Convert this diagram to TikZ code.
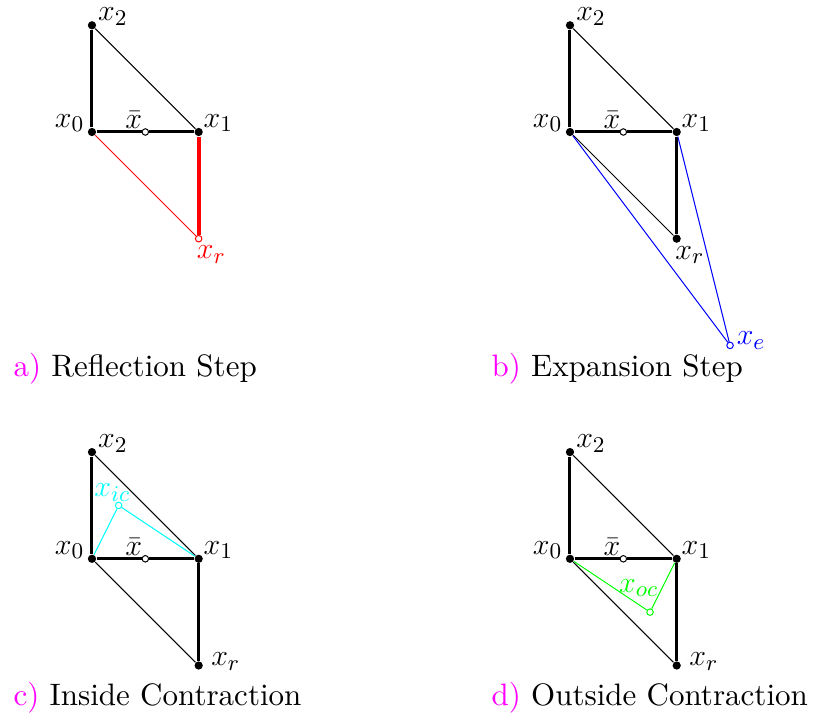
\documentclass[tikz,border=0pt]{standalone}
\usepackage{fontspec}
\usepackage{xcolor}
\usepackage{tikz}
\usetikzlibrary{positioning}

\newfontfamily\capfont{lmroman10-regular.otf}
\definecolor{capmag}{RGB}{255,0,255}
\definecolor{iccyan}{RGB}{0,255,255}
\definecolor{ocgreen}{RGB}{0,255,0}

\begin{document}
\begin{tikzpicture}[x=1.5cm, y=1.5cm,
    every node/.style={font=\fontsize{12.4}{15}\selectfont},
    dot/.style={circle, fill=black, inner sep=0pt, minimum size=3.3pt},
    hollow/.style={circle, draw, fill=white, inner sep=0pt, minimum size=2.6pt, line width=0.4pt},
    lbl/.style={inner sep=1pt},
    edge/.style={line width=1.2pt},
    side/.style={line width=0.4pt},
    caption/.style={anchor=base west, inner sep=0pt, font=\capfont\fontsize{12.4}{15}\selectfont}]
  \useasboundingbox (-0.862,-5.445) rectangle (6.870,1.237);
  % simplex x0, x1, x2 and centroid, same in all four panels
  \foreach \p/\dx/\dy in {a/0/0, b/4.48/0, c/0/-4, d/4.48/-4} {
    \node[dot] (\p0) at (\dx,\dy) {};
    \node[dot] (\p1) at (\dx+1,\dy) {};
    \node[dot] (\p2) at (\dx,\dy+1) {};
    \node[hollow] (\p bar) at (\dx+0.5,\dy) {};
    \draw[edge] (\p0) -- (\p2);
    \draw[side] (\p2) -- (\p1);
    \draw[edge] (\p0) -- (\p bar) -- (\p1);
    \node[lbl, above left=-2.5pt and 0.5pt of \p0] (\p0t) {$x_0$};
    \node[lbl, above right=-2.5pt and -0.5pt of \p1] (\p1t) {$x_1$};
    \node[lbl, above right=-2.5pt and 0pt of \p2] (\p2t) {$x_2$};
    \node[lbl, above left=-1pt and -1pt of \p bar] (\p bart) {$\bar{x}$};
  }

  % a) reflection
  \node[hollow, draw=red] (ar) at (1,-1) {};
  \draw[red, line width=1.6pt] (a1) -- (ar);
  \draw[red, side] (a0) -- (ar);
  \node[lbl, red, below right=0.5pt and -3pt of ar] (art) {$x_r$};
  \node[caption] (acap) at (-0.74,-2.296) {\textcolor{capmag}{a)} Reflection Step};

  % b) expansion
  \node[dot] (br) at (5.48,-1) {};
  \node[hollow, draw=blue] (be) at (5.98,-2) {};
  \draw[edge] (b1) -- (br);
  \draw[side] (b0) -- (br);
  \draw[blue, side] (b0) -- (be) -- (b1);
  \node[lbl, below right=0.5pt and -3pt of br] (brt) {$x_r$};
  \node[lbl, blue, right=0pt of be, yshift=2pt] (bet) {$x_e$};
  \node[caption] (bcap) at (3.74,-2.296) {\textcolor{capmag}{b)} Expansion Step};

  % c) inside contraction
  \node[dot] (cr) at (1,-5) {};
  \node[hollow, draw=iccyan] (cic) at (0.25,-3.5) {};
  \draw[edge] (c1) -- (cr);
  \draw[side] (c0) -- (cr);
  \draw[iccyan, side] (c0) -- (cic) -- (c1);
  \node[lbl, right=2pt of cr, yshift=1.5pt] (crt) {$x_r$};
  \node[lbl, iccyan, above=-1pt of cic, xshift=-2.5pt] (cict) {$x_{ic}$};
  \node[caption] (ccap) at (-0.74,-5.378) {\textcolor{capmag}{c)} Inside Contraction};

  % d) outside contraction
  \node[dot] (dr) at (5.48,-5) {};
  \node[hollow, draw=ocgreen] (doc) at (5.23,-4.5) {};
  \draw[edge] (d1) -- (dr);
  \draw[side] (d0) -- (dr);
  \draw[ocgreen, side] (d0) -- (doc) -- (d1);
  \node[lbl, right=2pt of dr, yshift=1.5pt] (drt) {$x_r$};
  \node[lbl, ocgreen, above=3.5pt of doc, xshift=-4.5pt] (doct) {$x_{oc}$};
  \node[caption] (dcap) at (3.74,-5.378) {\textcolor{capmag}{d)} Outside Contraction};
\end{tikzpicture}
\end{document}
